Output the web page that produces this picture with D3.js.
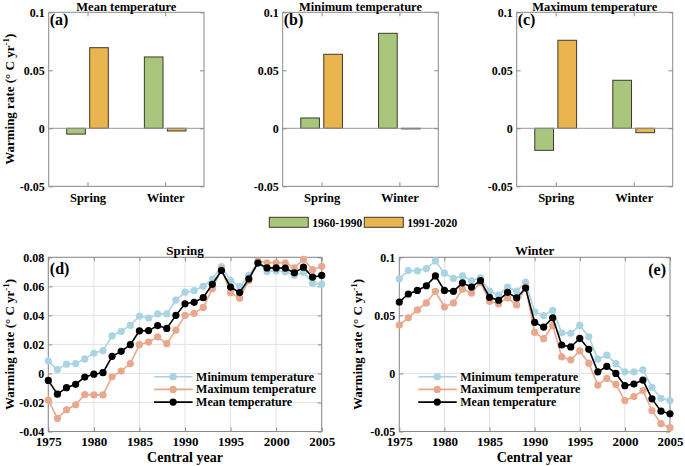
<!DOCTYPE html>
<html><head><meta charset="utf-8">
<script src="https://cdn.jsdelivr.net/npm/d3@7"></script>
<style>
body{margin:0;background:#fff}
svg text{font-family:"Liberation Serif","Times New Roman",serif;font-weight:bold;fill:#000}
</style>
</head><body>
<svg id="c" width="685" height="466"></svg>
<script>
// ---------- data ----------
const barCategories = ["Spring", "Winter"];
const periods = ["1960-1990", "1991-2020"];
const periodColors = ["#aac67d", "#eab44f"];
const barTitles = ["Mean temperature", "Minimum temperature", "Maximum temperature"];
const barLetters = ["(a)", "(b)", "(c)"];
// values per category: [1960-1990, 1991-2020]
const meanBars = [[-0.005, 0.0695], [0.0615, -0.0023]];
const minBars  = [[0.0089, 0.0638], [0.0819, -0.0005]];
const maxBars  = [[-0.019, 0.0759], [0.0414, -0.0038]];
const barTicks = [-0.05, 0, 0.05, 0.1];
const barTickLabels = ["-0.05", "0", "0.05", "0.1"];

const years = d3.range(1975, 2006);
const springMin  = [0.0085,0.0027,0.0064,0.0068,0.0100,0.0139,0.0157,0.0259,0.0290,0.0332,0.0395,0.0382,0.0410,0.0410,0.0505,0.0560,0.0570,0.0600,0.0650,0.0736,0.0640,0.0600,0.0675,0.0765,0.0702,0.0706,0.0700,0.0675,0.0697,0.0622,0.0615];
const springMax  = [-0.0184,-0.0310,-0.0250,-0.0216,-0.0145,-0.0148,-0.0148,-0.0023,0.0016,0.0068,0.0198,0.0216,0.0252,0.0205,0.0298,0.0400,0.0414,0.0455,0.0584,0.0720,0.0556,0.0518,0.0640,0.0775,0.0762,0.0762,0.0762,0.0728,0.0786,0.0715,0.0738];
const springMean = [-0.0048,-0.0143,-0.0098,-0.0075,-0.0025,-0.0005,0.0005,0.0118,0.0152,0.0198,0.0293,0.0295,0.0330,0.0310,0.0400,0.0480,0.0490,0.0522,0.0614,0.0709,0.0595,0.0557,0.0652,0.0760,0.0727,0.0727,0.0725,0.0693,0.0732,0.0664,0.0675];
const winterMin  = [0.0815,0.0886,0.0883,0.0903,0.0969,0.0863,0.0818,0.0840,0.0798,0.0823,0.0710,0.0675,0.0744,0.0710,0.0786,0.0530,0.0499,0.0544,0.0350,0.0345,0.0413,0.0316,0.0123,0.0157,0.0085,0.0014,0.0014,0.0031,-0.0120,-0.0214,-0.0234];
const winterMax  = [0.0416,0.0479,0.0547,0.0607,0.0707,0.0573,0.0607,0.0724,0.0692,0.0783,0.0621,0.0598,0.0650,0.0590,0.0746,0.0353,0.0299,0.0413,0.0142,0.0117,0.0194,0.0088,-0.0100,-0.0043,-0.0094,-0.0234,-0.0199,-0.0148,-0.0319,-0.0433,-0.0467];
const winterMean = [0.0615,0.0684,0.0715,0.0755,0.0840,0.0715,0.0707,0.0780,0.0744,0.0800,0.0655,0.0630,0.0698,0.0650,0.0735,0.0440,0.0399,0.0479,0.0245,0.0228,0.0302,0.0208,0.0014,0.0060,0.0000,-0.0105,-0.0091,-0.0057,-0.0219,-0.0325,-0.0348];
const seriesNames = ["Minimum temperature", "Maximum temperature", "Mean temperature"];
const seriesColors = ["#a8d4e4", "#e9a88c", "#000000"];
const yearTicks = [1975, 1980, 1985, 1990, 1995, 2000, 2005];
const springTicks = [-0.04, -0.02, 0, 0.02, 0.04, 0.06, 0.08];
const springTickLabels = ["-0.04", "-0.02", "0", "0.02", "0.04", "0.06", "0.08"];
const winterTicks = [-0.05, 0, 0.05, 0.1];
const winterTickLabels = ["-0.05", "0", "0.05", "0.1"];

// ---------- drawing ----------
const svg = d3.select("#c");
const boxColor = "#8a8a8a";

function yLabel(g, x, y) {
  const t = g.append("text").attr("transform", `translate(${x},${y}) rotate(-90)`)
    .attr("text-anchor", "middle").attr("font-size", 13);
  t.append("tspan").text("Warming rate (° C yr");
  t.append("tspan").attr("dy", -5).attr("font-size", 9).text("-1");
  t.append("tspan").attr("dy", 5).text(")");
}

function styleAxis(g, size) {
  g.select(".domain").remove();
  g.selectAll(".tick line").attr("stroke", boxColor);
  g.selectAll("text").attr("font-family", null).attr("font-size", size).attr("fill", "#000");
  g.attr("font-family", null);
}

function barPanel(x0, x1, data, title, letter, withLabel) {
  const yTop = 12.3, yBot = 186.3;
  const x = d3.scaleLinear().domain([0.5, 2.5]).range([x0, x1]);
  const y = d3.scaleLinear().domain([-0.05, 0.1]).range([yBot, yTop]);
  const g = svg.append("g");
  const bw = x(1.24) - x(1);
  data.forEach((vals, i) => {
    vals.forEach((v, j) => {
      const cx = x(i + 1 + (j === 0 ? -0.148 : 0.148));
      g.append("rect").attr("x", cx - bw / 2).attr("width", bw)
        .attr("y", y(Math.max(v, 0))).attr("height", Math.abs(y(v) - y(0)))
        .attr("fill", periodColors[j]).attr("stroke", "#3b3b2e").attr("stroke-width", 1);
    });
  });
  g.append("line").attr("x1", x0).attr("x2", x1).attr("y1", y(0)).attr("y2", y(0))
    .attr("stroke", "#999").attr("stroke-width", 1);
  g.append("rect").attr("x", x0).attr("y", yTop).attr("width", x1 - x0).attr("height", yBot - yTop)
    .attr("fill", "none").attr("stroke", boxColor);
  const ax = g.append("g").attr("transform", `translate(${x0},0)`)
    .call(d3.axisLeft(y).tickValues(barTicks).tickFormat((d, i) => barTickLabels[i]).tickSizeInner(-4).tickSizeOuter(0).tickPadding(4));
  styleAxis(ax, 12);
  const ar = g.append("g").attr("transform", `translate(${x1},0)`)
    .call(d3.axisRight(y).tickValues(barTicks).tickFormat("").tickSizeInner(-4).tickSizeOuter(0));
  styleAxis(ar, 12);
  const ab = g.append("g").attr("transform", `translate(0,${yBot})`)
    .call(d3.axisBottom(x).tickValues([1, 2]).tickFormat((d, i) => barCategories[i]).tickSizeInner(-4).tickSizeOuter(0).tickPadding(7));
  styleAxis(ab, 12.5);
  const at = g.append("g").attr("transform", `translate(0,${yTop})`)
    .call(d3.axisTop(x).tickValues([1, 2]).tickFormat("").tickSizeInner(-4).tickSizeOuter(0));
  styleAxis(at, 12);
  g.append("text").attr("x", (x0 + x1) / 2).attr("y", 10.5).attr("text-anchor", "middle").attr("font-size", 12.5).text(title);
  g.append("text").attr("x", x0 + 1).attr("y", 25).attr("font-size", 16).text(letter);
  if (withLabel) yLabel(g, 14, (yTop + yBot) / 2);
}

barPanel(48.7, 204, meanBars, barTitles[0], barLetters[0], true);
barPanel(282.7, 438.3, minBars, barTitles[1], barLetters[1], false);
barPanel(516.7, 672.7, maxBars, barTitles[2], barLetters[2], false);

// legend for bars
const lg = svg.append("g");
const legX = [269.3, 364.3];
periods.forEach((p, j) => {
  lg.append("rect").attr("x", legX[j]).attr("y", 217.3).attr("width", 39).attr("height", 10)
    .attr("fill", periodColors[j]).attr("stroke", "#3b3b2e");
  lg.append("text").attr("x", legX[j] + 43).attr("y", 226.5).attr("font-size", 11.5).text(p);
});

function linePanel(x0, x1, yDomain, ticks, tickLabels, series, title, letter, letterRight, labelX, legendFrac) {
  const yTop = 257.3, yBot = 431.5;
  const x = d3.scaleLinear().domain([1975, 2005]).range([x0, x1]);
  const y = d3.scaleLinear().domain(yDomain).range([yBot, yTop]);
  const g = svg.append("g");
  // grid
  g.append("g").selectAll("line").data(yearTicks).join("line")
    .attr("x1", d => x(d)).attr("x2", d => x(d)).attr("y1", yTop).attr("y2", yBot)
    .attr("stroke", "#e3e3e3");
  g.append("g").selectAll("line").data(ticks).join("line")
    .attr("y1", d => y(d)).attr("y2", d => y(d)).attr("x1", x0).attr("x2", x1)
    .attr("stroke", "#e3e3e3");
  g.append("rect").attr("x", x0).attr("y", yTop).attr("width", x1 - x0).attr("height", yBot - yTop)
    .attr("fill", "none").attr("stroke", boxColor);
  const ax = g.append("g").attr("transform", `translate(${x0},0)`)
    .call(d3.axisLeft(y).tickValues(ticks).tickFormat((d, i) => tickLabels[i]).tickSizeInner(-4).tickSizeOuter(0).tickPadding(4));
  styleAxis(ax, 12);
  const ar = g.append("g").attr("transform", `translate(${x1},0)`)
    .call(d3.axisRight(y).tickValues(ticks).tickFormat("").tickSizeInner(-4).tickSizeOuter(0));
  styleAxis(ar, 12);
  const ab = g.append("g").attr("transform", `translate(0,${yBot})`)
    .call(d3.axisBottom(x).tickValues(yearTicks).tickFormat(d3.format("d")).tickSizeInner(-4).tickSizeOuter(0).tickPadding(5));
  styleAxis(ab, 13);
  const at = g.append("g").attr("transform", `translate(0,${yTop})`)
    .call(d3.axisTop(x).tickValues(yearTicks).tickFormat("").tickSizeInner(-4).tickSizeOuter(0));
  styleAxis(at, 12);
  const line = d3.line().x((d, i) => x(years[i])).y(d => y(d));
  series.forEach((vals, k) => {
    g.append("path").datum(vals).attr("d", line).attr("fill", "none")
      .attr("stroke", seriesColors[k]).attr("stroke-width", 1.6);
    g.append("g").selectAll("circle").data(vals).join("circle")
      .attr("cx", (d, i) => x(years[i])).attr("cy", d => y(d)).attr("r", 3.6)
      .attr("fill", seriesColors[k]);
  });
  // legend
  const lx = x0 + (x1 - x0) * legendFrac;
  seriesNames.forEach((n, k) => {
    const ly = 376.7 + k * 12.7;
    g.append("line").attr("x1", lx).attr("x2", lx + 38.5).attr("y1", ly).attr("y2", ly)
      .attr("stroke", seriesColors[k]).attr("stroke-width", 1.6);
    g.append("circle").attr("cx", lx + 19).attr("cy", ly).attr("r", 3.6).attr("fill", seriesColors[k]);
    g.append("text").attr("x", lx + 42).attr("y", ly + 4).attr("font-size", 12).text(n);
  });
  g.append("text").attr("x", (x0 + x1) / 2).attr("y", 254.5).attr("text-anchor", "middle").attr("font-size", 13).text(title);
  if (letterRight) g.append("text").attr("x", x1 - 4).attr("y", 274.5).attr("text-anchor", "end").attr("font-size", 16).text(letter);
  else g.append("text").attr("x", x0 + 1.5).attr("y", 273.5).attr("font-size", 16).text(letter);
  g.append("text").attr("x", (x0 + x1) / 2).attr("y", 462).attr("text-anchor", "middle").attr("font-size", 14).text("Central year");
  yLabel(g, labelX, (yTop + yBot) / 2);
}

linePanel(48.3, 321.7, [-0.04, 0.08], springTicks, springTickLabels,
  [springMin, springMax, springMean], "Spring", "(d)", false, 14, 0.387);
linePanel(399.3, 670, [-0.05, 0.1], winterTicks, winterTickLabels,
  [winterMin, winterMax, winterMean], "Winter", "(e)", true, 362, 0.07);
</script>
</body></html>
